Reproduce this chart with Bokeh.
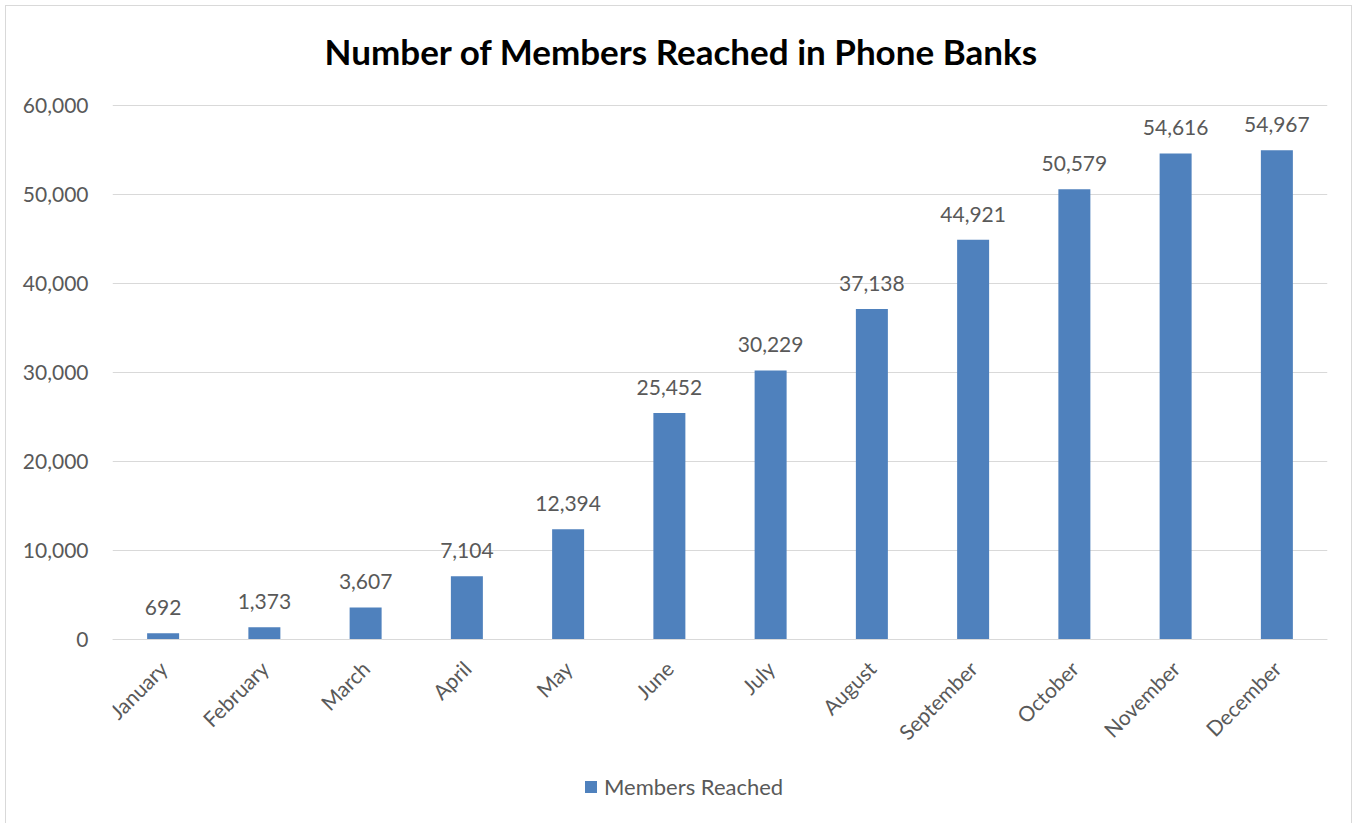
from bokeh.plotting import figure
from bokeh.models import ColumnDataSource, NumeralTickFormatter, FixedTicker, Legend, LegendItem, Label, Span
from bokeh.core.properties import value
from bokeh.embed import file_html
from bokeh.resources import INLINE
import math

months = ["January", "February", "March", "April", "May", "June", "July",
          "August", "September", "October", "November", "December"]
members = [692, 1373, 3607, 7104, 12394, 25452, 30229, 37138, 44921, 50579, 54616, 54967]
y_ticks = [0, 10000, 20000, 30000, 40000, 50000, 60000]
title_text = "Number of Members Reached in Phone Banks"
series_name = "Members Reached"

FONT = "Lato"
GRAY = "#595959"
BLUE = "#4F81BD"
GRID = "#D9D9D9"

src = ColumnDataSource(dict(m=months, v=members, t=[f"{x:,}" for x in members],
                            z=[0] * len(months)))

# the frame fills the whole canvas height; the value axis occupies 534 px of it,
# with 99 px above 60,000 (title) and 184 px below 0 (month labels, legend)
FRAME_H = 817
PLOT_H = 534
TOP_PAD = 99
BOT_PAD = FRAME_H - PLOT_H - TOP_PAD
per_px = y_ticks[-1] / PLOT_H
y_top = y_ticks[-1] + TOP_PAD * per_px
y_bot = -BOT_PAD * per_px

p = figure(x_range=months, y_range=(y_bot, y_top),
           frame_width=1215, frame_height=FRAME_H,
           min_border_left=106, min_border_right=24, min_border_top=0, min_border_bottom=0,
           output_backend="svg", toolbar_location=None)
p.margin = (5, 5, 0, 5)
p.styles = {"border-top": "1px solid #D9D9D9", "border-left": "1px solid #D9D9D9",
            "border-right": "1px solid #D9D9D9"}

p.outline_line_color = None
p.xgrid.grid_line_color = None
p.ygrid.grid_line_color = GRID
p.ygrid.grid_line_width = 1
p.xaxis.visible = False
p.x_range.range_padding = 0

p.add_layout(Span(location=0, dimension="width", line_color=GRID, line_width=1))

r = p.vbar(x="m", top="v", width=0.316, source=src, fill_color=BLUE, line_color=None)
p.text(x="m", y="v", text="t", source=src, text_align="center", text_baseline="bottom",
       y_offset=-18, text_font=value(FONT), text_font_size="21px", text_color=GRAY)

# category labels, rotated 45 degrees under each bar
p.text(x="m", y="z", text="m", source=src, angle=math.pi / 4, text_align="right",
       text_baseline="middle", x_offset=0, y_offset=25,
       text_font=value(FONT), text_font_size="21px", text_color=GRAY)

p.yaxis.ticker = FixedTicker(ticks=y_ticks)
p.yaxis.formatter = NumeralTickFormatter(format="0,0")
p.yaxis.axis_line_color = None
p.yaxis.major_tick_line_color = None
p.yaxis.minor_tick_line_color = None
p.yaxis.major_label_standoff = 18
p.yaxis.major_label_text_font = FONT
p.yaxis.major_label_text_font_size = "21px"
p.yaxis.major_label_text_color = GRAY

title = Label(x=569, y=FRAME_H - 44, x_units="screen", y_units="screen", text=title_text,
              text_align="center", text_baseline="middle", text_font=FONT,
              text_font_size="35px", text_font_style="bold", text_color="#000000")
p.add_layout(title)

legend = Legend(items=[LegendItem(label=series_name, renderers=[r])],
                location=(471, 23), orientation="horizontal",
                glyph_width=15, glyph_height=15, label_standoff=6, padding=0, margin=0,
                border_line_color=None, background_fill_alpha=0,
                label_text_font=FONT, label_text_font_size="22px", label_text_color=GRAY)
p.add_layout(legend, "center")

open("out.html", "w").write(file_html(p, INLINE))
